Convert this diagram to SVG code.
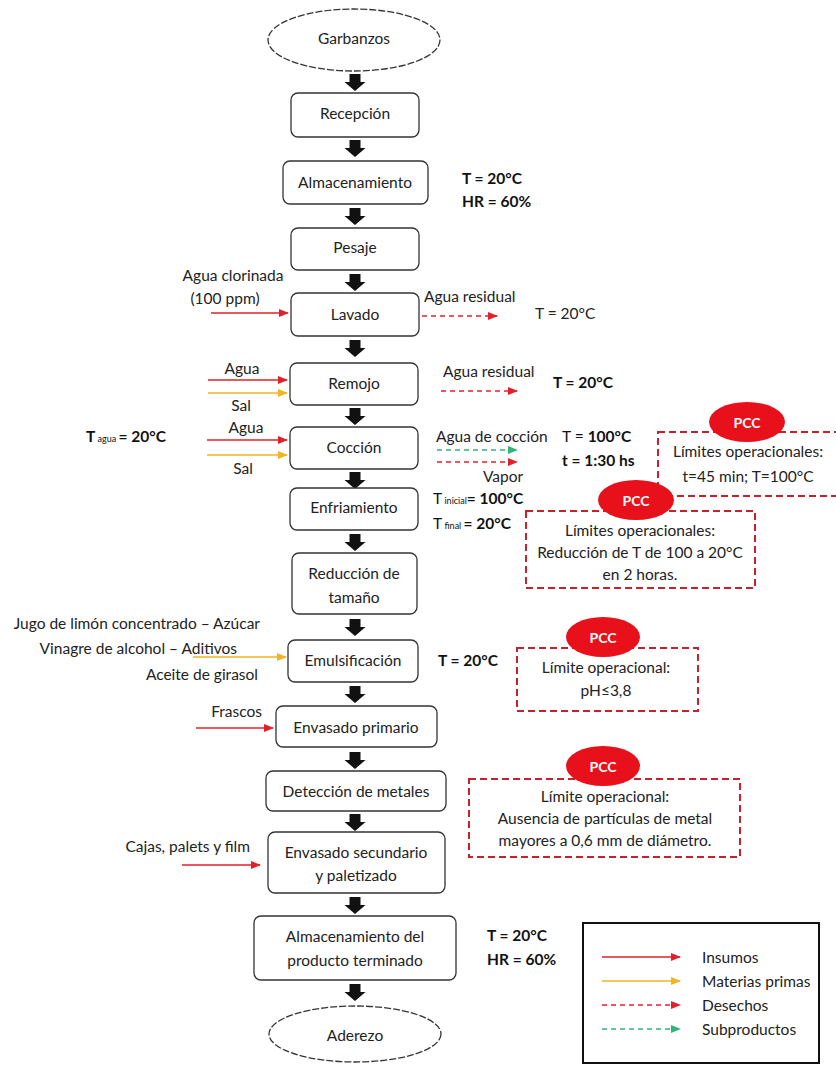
<svg xmlns="http://www.w3.org/2000/svg" width="836" height="1069" viewBox="0 0 836 1069">
<defs>
<style>
.box{fill:#fff;stroke:#333;stroke-width:1.3}
.term{fill:#fff;stroke:#333;stroke-width:1.3;stroke-dasharray:7 2}
.t{font-family:Lato,"Liberation Sans",sans-serif;font-size:15.5px;fill:#222;text-anchor:middle;dominant-baseline:central}
.l{font-family:Lato,"Liberation Sans",sans-serif;font-size:15.5px;fill:#222;dominant-baseline:central}
.b{font-family:Lato,"Liberation Sans",sans-serif;font-size:15.5px;font-weight:bold;fill:#111;dominant-baseline:central}
.pcc{fill:#e8101a}
.pcct{font-family:Lato,"Liberation Sans",sans-serif;font-size:14px;font-weight:bold;fill:#fff;text-anchor:middle;dominant-baseline:central}
.pbox{fill:#fff;stroke:#c4222c;stroke-width:2;stroke-dasharray:7 4}
.red{stroke:#e3202a;stroke-width:1.6;fill:none}
.yel{stroke:#f4b320;stroke-width:1.6;fill:none}
.dred{stroke:#e3202a;stroke-width:1.6;fill:none;stroke-dasharray:5 4}
.dgrn{stroke:#2fb57a;stroke-width:1.6;fill:none;stroke-dasharray:5 4}
</style>
<path id="ba" d="M-5.5,0 H5.5 V8 H10.5 L0,17 L-10.5,8 H-5.5 Z" fill="#111"/>
<marker id="mr" markerUnits="userSpaceOnUse" markerWidth="10" markerHeight="10" refX="9" refY="5" orient="auto"><path d="M0,1 L10,5 L0,9 Z" fill="#e3202a"/></marker>
<marker id="my" markerUnits="userSpaceOnUse" markerWidth="10" markerHeight="10" refX="9" refY="5" orient="auto"><path d="M0,1 L10,5 L0,9 Z" fill="#f4b320"/></marker>
<marker id="mg" markerUnits="userSpaceOnUse" markerWidth="10" markerHeight="10" refX="9" refY="5" orient="auto"><path d="M0,1 L10,5 L0,9 Z" fill="#2fb57a"/></marker>
</defs>
<rect width="836" height="1069" fill="#fff"/>

<g id="connectors">
<use href="#ba" x="355" y="74"/>
<use href="#ba" x="355" y="140"/>
<use href="#ba" x="355" y="208"/>
<use href="#ba" x="355" y="274"/>
<use href="#ba" x="355" y="340"/>
<use href="#ba" x="355" y="408"/>
<use href="#ba" x="355" y="472"/>
<use href="#ba" x="355" y="534"/>
<use href="#ba" x="355" y="619"/>
<use href="#ba" x="355" y="686"/>
<use href="#ba" x="355" y="752"/>
<use href="#ba" x="355" y="814"/>
<use href="#ba" x="355" y="897"/>
<use href="#ba" x="355" y="984"/>
<line class="red" x1="211" y1="313" x2="288" y2="313" marker-end="url(#mr)"/>
<line class="dred" x1="422" y1="316" x2="497" y2="316" marker-end="url(#mr)"/>
<line class="red" x1="208" y1="380" x2="287" y2="380" marker-end="url(#mr)"/>
<line class="yel" x1="208" y1="393" x2="287" y2="393" marker-end="url(#my)"/>
<line class="dred" x1="441" y1="391" x2="517" y2="391" marker-end="url(#mr)"/>
<line class="red" x1="207" y1="440" x2="287" y2="440" marker-end="url(#mr)"/>
<line class="yel" x1="207" y1="455" x2="287" y2="455" marker-end="url(#my)"/>
<line class="dgrn" x1="437" y1="450" x2="517" y2="450" marker-end="url(#mg)"/>
<line class="dred" x1="437" y1="462" x2="517" y2="462" marker-end="url(#mr)"/>
<line class="yel" x1="193" y1="657" x2="286" y2="657" marker-end="url(#my)"/>
<line class="red" x1="196" y1="728" x2="273" y2="728" marker-end="url(#mr)"/>
<line class="red" x1="182" y1="865" x2="260" y2="865" marker-end="url(#mr)"/>
</g>

<g id="garbanzos"><ellipse class="term" cx="354" cy="40" rx="86" ry="31"/><text class="t" x="354" y="38">Garbanzos</text></g>
<g id="recepcion"><rect class="box" x="291" y="93" width="128" height="44" rx="7"/><text class="t" x="355" y="113">Recepción</text></g>
<g id="almacenamiento"><rect class="box" x="283" y="161" width="145" height="43" rx="7"/><text class="t" x="355" y="182">Almacenamiento</text>
<text class="b" x="462" y="178">T = 20°C</text><text class="b" x="462" y="201">HR = 60%</text></g>
<g id="pesaje"><rect class="box" x="291" y="228" width="128" height="42" rx="7"/><text class="t" x="355" y="247">Pesaje</text></g>
<g id="lavado"><rect class="box" x="291" y="293" width="128" height="43" rx="7"/><text class="t" x="355" y="314">Lavado</text>
<text class="t" x="233" y="275">Agua clorinada</text><text class="t" x="225" y="298">(100 ppm)</text>
<text class="l" x="424" y="296">Agua residual</text>
<text class="l" x="535" y="313">T = 20°C</text></g>
<g id="remojo"><rect class="box" x="290" y="363" width="128" height="42" rx="7"/><text class="t" x="354" y="383">Remojo</text>
<text class="t" x="242" y="368">Agua</text><text class="t" x="241" y="405">Sal</text>
<text class="l" x="443" y="371">Agua residual</text>
<text class="b" x="553" y="382">T = 20°C</text></g>
<g id="coccion"><rect class="box" x="290" y="427" width="128" height="42" rx="7"/><text class="t" x="354" y="447">Cocción</text>
<text class="b" x="86" y="436">T<tspan font-size="9" font-weight="normal" dy="2"> agua </tspan><tspan dy="-2">= 20°C</tspan></text>
<text class="t" x="246" y="427">Agua</text><text class="t" x="243" y="468">Sal</text>
<text class="l" x="436" y="436">Agua de cocción</text>
<text class="t" x="503" y="476">Vapor</text>
<text class="b" x="562" y="436"><tspan font-weight="normal">T = </tspan>100°C</text>
<text class="b" x="562" y="460">t = 1:30 hs</text></g>
<g id="pcc1"><rect class="pbox" x="658" y="432" width="190" height="64"/><ellipse class="pcc" cx="747" cy="422" rx="38" ry="20"/><text class="pcct" x="747" y="422">PCC</text>
<text class="t" x="748" y="451">Límites operacionales:</text><text class="t" x="748" y="476">t=45 min; T=100°C</text></g>
<g id="enfriamiento"><rect class="box" x="290" y="488" width="128" height="42" rx="7"/><text class="t" x="354" y="507">Enfriamiento</text>
<text class="b" x="433" y="498"><tspan font-weight="normal">T</tspan><tspan font-size="9" font-weight="normal" dy="2"> inicial</tspan><tspan dy="-2">= 100°C</tspan></text>
<text class="b" x="433" y="523"><tspan font-weight="normal">T</tspan><tspan font-size="9" font-weight="normal" dy="2"> final </tspan><tspan dy="-2">= 20°C</tspan></text></g>
<g id="pcc2"><rect class="pbox" x="526" y="511" width="229" height="77"/><ellipse class="pcc" cx="636" cy="500" rx="38" ry="20"/><text class="pcct" x="636" y="500">PCC</text>
<text class="t" x="640" y="530">Límites operacionales:</text><text class="t" x="640" y="552">Reducción de T de 100 a 20°C</text><text class="t" x="640" y="574">en 2 horas.</text></g>
<g id="reduccion"><rect class="box" x="292" y="553" width="125" height="61" rx="7"/><text class="t" x="354" y="573">Reducción de</text><text class="t" x="354" y="597">tamaño</text></g>
<g id="emulsificacion"><rect class="box" x="288" y="640" width="130" height="42" rx="7"/><text class="t" x="353" y="660">Emulsificación</text>
<text class="l" x="260" y="623" text-anchor="end">Jugo de limón concentrado – Azúcar</text>
<text class="l" x="237" y="648" text-anchor="end">Vinagre de alcohol –  Aditivos</text>
<text class="l" x="258" y="674" text-anchor="end">Aceite de girasol</text>
<text class="b" x="438" y="660">T = 20°C</text></g>
<g id="pcc3"><rect class="pbox" x="517" y="648" width="181" height="63"/><ellipse class="pcc" cx="603" cy="637" rx="37" ry="20"/><text class="pcct" x="603" y="637">PCC</text>
<text class="t" x="606" y="667">Límite operacional:</text><text class="t" x="606" y="690">pH≤3,8</text></g>
<g id="envasado1"><rect class="box" x="276" y="706" width="161" height="41" rx="7"/><text class="t" x="356" y="727">Envasado primario</text>
<text class="l" x="262" y="711" text-anchor="end">Frascos</text></g>
<g id="deteccion"><rect class="box" x="266" y="771" width="180" height="40" rx="7"/><text class="t" x="356" y="791">Detección de metales</text></g>
<g id="pcc4"><rect class="pbox" x="469" y="779" width="271" height="78"/><ellipse class="pcc" cx="603" cy="766" rx="37" ry="20"/><text class="pcct" x="603" y="766">PCC</text>
<text class="t" x="605" y="796">Límite operacional:</text><text class="t" x="605" y="818">Ausencia de partículas de metal</text><text class="t" x="605" y="840">mayores a 0,6 mm de diámetro.</text></g>
<g id="envasado2"><rect class="box" x="268" y="832" width="177" height="61" rx="7"/><text class="t" x="356" y="852">Envasado secundario</text><text class="t" x="356" y="875">y paletizado</text>
<text class="l" x="250" y="846" text-anchor="end">Cajas, palets y film</text></g>
<g id="almacenamiento2"><rect class="box" x="254" y="916" width="202" height="64" rx="7"/><text class="t" x="355" y="936">Almacenamiento del</text><text class="t" x="355" y="960">producto terminado</text>
<text class="b" x="487" y="935">T = 20°C</text><text class="b" x="487" y="959">HR = 60%</text></g>
<g id="aderezo"><ellipse class="term" cx="355" cy="1034" rx="86" ry="28"/><text class="t" x="355" y="1035">Aderezo</text></g>

<g id="legend">
<rect x="583" y="923" width="236" height="140" fill="#fff" stroke="#111" stroke-width="2"/>
<line class="red" x1="602" y1="957" x2="680" y2="957" marker-end="url(#mr)"/>
<line class="yel" x1="602" y1="981" x2="680" y2="981" marker-end="url(#my)"/>
<line class="dred" x1="602" y1="1005" x2="680" y2="1005" marker-end="url(#mr)"/>
<line class="dgrn" x1="602" y1="1029" x2="680" y2="1029" marker-end="url(#mg)"/>
<text class="l" x="702" y="957">Insumos</text>
<text class="l" x="702" y="981">Materias primas</text>
<text class="l" x="702" y="1005">Desechos</text>
<text class="l" x="702" y="1029">Subproductos</text>
</g>
</svg>
